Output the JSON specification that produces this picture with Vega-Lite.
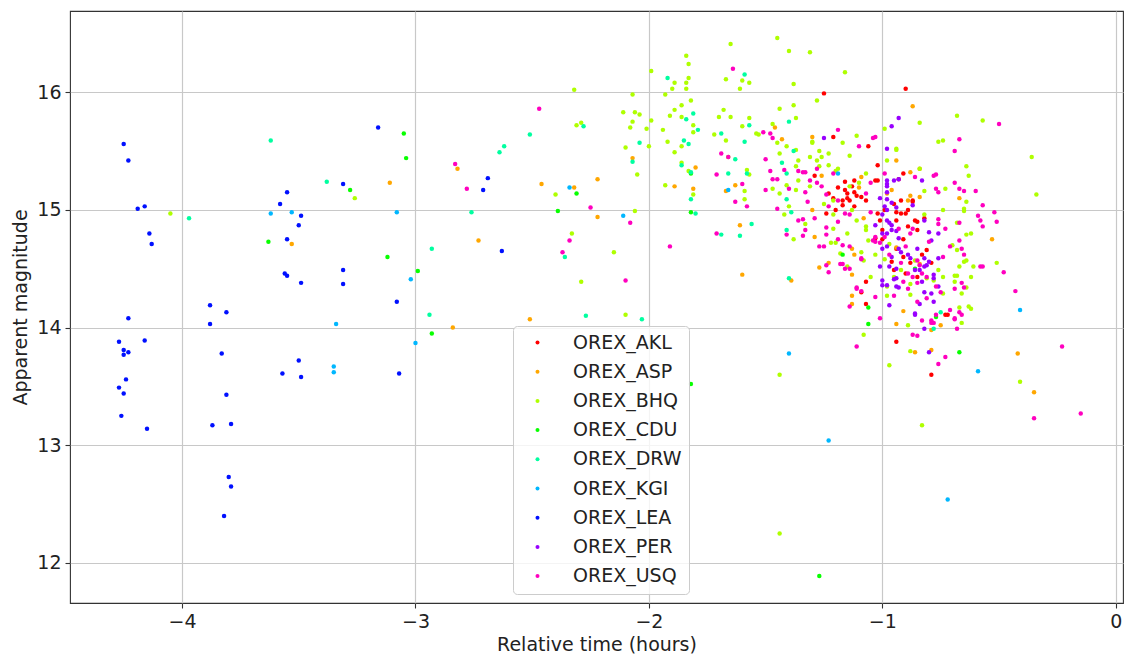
{"$schema":"https://vega.github.io/schema/vega-lite/v6.json","width":1053,"height":592,"autosize":{"type":"none"},"padding":{"left":70,"top":11,"right":2,"bottom":53},"background":"white","config":{"font":"DejaVu Sans","view":{"stroke":"#333333","strokeWidth":1.1},"axis":{"domain":false,"grid":true,"gridColor":"#c8c8c8","gridWidth":1.2,"tickColor":"#333333","tickSize":5,"tickWidth":1.1,"labelFontSize":19,"labelColor":"#222222","labelPadding":4,"titleFontSize":19,"titleFontWeight":"normal","titleColor":"#222222"}},"data":{"values":[
{"station":"OREX_AKL","time":-1.25,"mag":15.99},{"station":"OREX_AKL","time":-0.90,"mag":16.03},{"station":"OREX_AKL","time":-1.21,"mag":15.62},{"station":"OREX_AKL","time":-1.06,"mag":15.54},{"station":"OREX_AKL","time":-1.02,"mag":15.38},{"station":"OREX_AKL","time":-0.91,"mag":15.31},{"station":"OREX_AKL","time":-0.93,"mag":15.26},{"station":"OREX_AKL","time":-1.29,"mag":15.29},{"station":"OREX_AKL","time":-1.23,"mag":15.14},{"station":"OREX_AKL","time":-1.16,"mag":15.17},{"station":"OREX_AKL","time":-1.13,"mag":15.20},{"station":"OREX_AKL","time":-1.15,"mag":15.10},{"station":"OREX_AKL","time":-1.09,"mag":15.11},{"station":"OREX_AKL","time":-0.92,"mag":15.08},{"station":"OREX_AKL","time":-0.87,"mag":15.08},{"station":"OREX_AKL","time":-0.90,"mag":14.97},{"station":"OREX_AKL","time":-0.94,"mag":14.91},{"station":"OREX_AKL","time":-1.01,"mag":14.91},{"station":"OREX_AKL","time":-0.85,"mag":14.90},{"station":"OREX_AKL","time":-0.82,"mag":14.93},{"station":"OREX_AKL","time":-1.00,"mag":14.83},{"station":"OREX_AKL","time":-0.91,"mag":14.60},{"station":"OREX_AKL","time":-0.83,"mag":14.62},{"station":"OREX_AKL","time":-0.79,"mag":14.55},{"station":"OREX_AKL","time":-1.07,"mag":14.39},{"station":"OREX_AKL","time":-1.09,"mag":14.30},{"station":"OREX_AKL","time":-1.07,"mag":14.20},{"station":"OREX_AKL","time":-0.73,"mag":14.11},{"station":"OREX_AKL","time":-0.95,"mag":14.49},{"station":"OREX_AKL","time":-0.88,"mag":14.55},{"station":"OREX_AKL","time":-0.90,"mag":14.46},{"station":"OREX_AKL","time":-1.00,"mag":14.75},{"station":"OREX_AKL","time":-1.11,"mag":15.12},{"station":"OREX_AKL","time":-1.03,"mag":15.25},{"station":"OREX_AKL","time":-1.12,"mag":15.25},{"station":"OREX_AKL","time":-1.03,"mag":14.76},{"station":"OREX_AKL","time":-0.91,"mag":14.75},{"station":"OREX_AKL","time":-0.99,"mag":15.00},{"station":"OREX_AKL","time":-0.94,"mag":14.98},{"station":"OREX_AKL","time":-1.16,"mag":15.24},{"station":"OREX_AKL","time":-1.19,"mag":15.19},{"station":"OREX_AKL","time":-1.15,"mag":15.14},{"station":"OREX_AKL","time":-1.12,"mag":15.15},{"station":"OREX_AKL","time":-1.17,"mag":15.08},{"station":"OREX_AKL","time":-1.14,"mag":15.08},{"station":"OREX_AKL","time":-1.07,"mag":15.08},{"station":"OREX_AKL","time":-1.12,"mag":15.03},{"station":"OREX_AKL","time":-1.17,"mag":15.04},{"station":"OREX_AKL","time":-1.24,"mag":14.97},{"station":"OREX_AKL","time":-1.20,"mag":15.00},{"station":"OREX_AKL","time":-1.21,"mag":15.10},{"station":"OREX_AKL","time":-1.02,"mag":15.25},{"station":"OREX_AKL","time":-0.95,"mag":15.05},{"station":"OREX_AKL","time":-0.92,"mag":14.97},{"station":"OREX_AKL","time":-0.87,"mag":15.07},{"station":"OREX_AKL","time":-0.89,"mag":15.00},{"station":"OREX_AKL","time":-1.02,"mag":14.97},{"station":"OREX_AKL","time":-0.86,"mag":14.91},{"station":"OREX_AKL","time":-0.89,"mag":14.86},{"station":"OREX_AKL","time":-0.85,"mag":14.83},{"station":"OREX_AKL","time":-0.94,"mag":14.67},{"station":"OREX_AKL","time":-0.81,"mag":14.66},{"station":"OREX_AKL","time":-0.85,"mag":14.43},{"station":"OREX_AKL","time":-0.72,"mag":14.11},{"station":"OREX_AKL","time":-0.94,"mag":13.88},{"station":"OREX_AKL","time":-0.96,"mag":14.56},{"station":"OREX_AKL","time":-0.79,"mag":13.60},
{"station":"OREX_ASP","time":-3.53,"mag":14.71},{"station":"OREX_ASP","time":-3.11,"mag":15.23},{"station":"OREX_ASP","time":-2.82,"mag":15.35},{"station":"OREX_ASP","time":-2.73,"mag":14.74},{"station":"OREX_ASP","time":-2.84,"mag":14.00},{"station":"OREX_ASP","time":-2.51,"mag":14.07},{"station":"OREX_ASP","time":-2.46,"mag":15.22},{"station":"OREX_ASP","time":-2.32,"mag":15.19},{"station":"OREX_ASP","time":-2.22,"mag":14.94},{"station":"OREX_ASP","time":-2.22,"mag":15.26},{"station":"OREX_ASP","time":-2.07,"mag":15.44},{"station":"OREX_ASP","time":-1.89,"mag":15.20},{"station":"OREX_ASP","time":-1.80,"mag":15.36},{"station":"OREX_ASP","time":-1.81,"mag":15.18},{"station":"OREX_ASP","time":-1.67,"mag":15.16},{"station":"OREX_ASP","time":-1.63,"mag":15.21},{"station":"OREX_ASP","time":-1.61,"mag":14.87},{"station":"OREX_ASP","time":-1.60,"mag":14.45},{"station":"OREX_ASP","time":-1.46,"mag":15.70},{"station":"OREX_ASP","time":-1.43,"mag":15.60},{"station":"OREX_ASP","time":-1.30,"mag":15.62},{"station":"OREX_ASP","time":-1.39,"mag":14.40},{"station":"OREX_ASP","time":-1.30,"mag":15.00},{"station":"OREX_ASP","time":-1.27,"mag":14.51},{"station":"OREX_ASP","time":-1.23,"mag":14.55},{"station":"OREX_ASP","time":-1.13,"mag":14.67},{"station":"OREX_ASP","time":-1.13,"mag":14.27},{"station":"OREX_ASP","time":-1.13,"mag":14.20},{"station":"OREX_ASP","time":-0.98,"mag":15.14},{"station":"OREX_ASP","time":-0.94,"mag":15.42},{"station":"OREX_ASP","time":-0.87,"mag":15.88},{"station":"OREX_ASP","time":-0.88,"mag":15.12},{"station":"OREX_ASP","time":-0.84,"mag":15.35},{"station":"OREX_ASP","time":-0.84,"mag":15.11},{"station":"OREX_ASP","time":-0.91,"mag":14.14},{"station":"OREX_ASP","time":-0.84,"mag":14.54},{"station":"OREX_ASP","time":-0.94,"mag":14.68},{"station":"OREX_ASP","time":-0.67,"mag":15.10},{"station":"OREX_ASP","time":-0.53,"mag":14.75},{"station":"OREX_ASP","time":-0.75,"mag":14.02},{"station":"OREX_ASP","time":-0.94,"mag":14.03},{"station":"OREX_ASP","time":-0.86,"mag":13.79},{"station":"OREX_ASP","time":-0.79,"mag":13.81},{"station":"OREX_ASP","time":-0.42,"mag":13.78},{"station":"OREX_ASP","time":-0.79,"mag":13.98},{"station":"OREX_ASP","time":-1.13,"mag":14.45},{"station":"OREX_ASP","time":-1.12,"mag":14.62},{"station":"OREX_ASP","time":-1.29,"mag":14.77},{"station":"OREX_ASP","time":-0.35,"mag":13.45},{"station":"OREX_ASP","time":-0.88,"mag":15.32},{"station":"OREX_ASP","time":-0.89,"mag":15.08},{"station":"OREX_ASP","time":-0.96,"mag":15.17},{"station":"OREX_ASP","time":-1.26,"mag":15.29},{"station":"OREX_ASP","time":-1.10,"mag":15.19},{"station":"OREX_ASP","time":-1.09,"mag":15.28},{"station":"OREX_ASP","time":-1.08,"mag":14.93},
{"station":"OREX_BHQ","time":-4.05,"mag":14.97},{"station":"OREX_BHQ","time":-3.26,"mag":15.10},{"station":"OREX_BHQ","time":-2.32,"mag":16.02},{"station":"OREX_BHQ","time":-2.31,"mag":15.72},{"station":"OREX_BHQ","time":-2.29,"mag":15.74},{"station":"OREX_BHQ","time":-2.40,"mag":15.13},{"station":"OREX_BHQ","time":-2.06,"mag":14.99},{"station":"OREX_BHQ","time":-2.33,"mag":14.80},{"station":"OREX_BHQ","time":-2.15,"mag":14.64},{"station":"OREX_BHQ","time":-2.29,"mag":14.39},{"station":"OREX_BHQ","time":-2.10,"mag":14.11},{"station":"OREX_BHQ","time":-1.99,"mag":16.18},{"station":"OREX_BHQ","time":-2.07,"mag":15.98},{"station":"OREX_BHQ","time":-2.11,"mag":15.83},{"station":"OREX_BHQ","time":-2.06,"mag":15.83},{"station":"OREX_BHQ","time":-2.04,"mag":15.81},{"station":"OREX_BHQ","time":-2.07,"mag":15.75},{"station":"OREX_BHQ","time":-2.08,"mag":15.70},{"station":"OREX_BHQ","time":-2.10,"mag":15.53},{"station":"OREX_BHQ","time":-2.05,"mag":15.30},{"station":"OREX_BHQ","time":-1.93,"mag":15.21},{"station":"OREX_BHQ","time":-2.00,"mag":15.54},{"station":"OREX_BHQ","time":-2.01,"mag":15.69},{"station":"OREX_BHQ","time":-1.99,"mag":15.76},{"station":"OREX_BHQ","time":-1.94,"mag":15.68},{"station":"OREX_BHQ","time":-1.92,"mag":15.58},{"station":"OREX_BHQ","time":-1.89,"mag":15.49},{"station":"OREX_BHQ","time":-1.93,"mag":15.98},{"station":"OREX_BHQ","time":-1.91,"mag":15.80},{"station":"OREX_BHQ","time":-1.89,"mag":15.85},{"station":"OREX_BHQ","time":-1.90,"mag":16.03},{"station":"OREX_BHQ","time":-1.89,"mag":16.08},{"station":"OREX_BHQ","time":-1.84,"mag":16.31},{"station":"OREX_BHQ","time":-1.83,"mag":16.24},{"station":"OREX_BHQ","time":-1.83,"mag":16.12},{"station":"OREX_BHQ","time":-1.84,"mag":16.08},{"station":"OREX_BHQ","time":-1.84,"mag":16.03},{"station":"OREX_BHQ","time":-1.82,"mag":15.93},{"station":"OREX_BHQ","time":-1.86,"mag":15.89},{"station":"OREX_BHQ","time":-1.86,"mag":15.79},{"station":"OREX_BHQ","time":-1.81,"mag":15.72},{"station":"OREX_BHQ","time":-1.81,"mag":15.66},{"station":"OREX_BHQ","time":-1.72,"mag":15.64},{"station":"OREX_BHQ","time":-1.86,"mag":15.54},{"station":"OREX_BHQ","time":-1.86,"mag":15.40},{"station":"OREX_BHQ","time":-1.83,"mag":15.33},{"station":"OREX_BHQ","time":-1.81,"mag":15.13},{"station":"OREX_BHQ","time":-1.70,"mag":15.79},{"station":"OREX_BHQ","time":-1.45,"mag":16.46},{"station":"OREX_BHQ","time":-1.65,"mag":16.41},{"station":"OREX_BHQ","time":-1.40,"mag":16.35},{"station":"OREX_BHQ","time":-1.31,"mag":16.34},{"station":"OREX_BHQ","time":-1.67,"mag":16.11},{"station":"OREX_BHQ","time":-1.61,"mag":16.03},{"station":"OREX_BHQ","time":-1.60,"mag":16.10},{"station":"OREX_BHQ","time":-1.57,"mag":16.08},{"station":"OREX_BHQ","time":-1.38,"mag":16.07},{"station":"OREX_BHQ","time":-1.16,"mag":16.17},{"station":"OREX_BHQ","time":-1.28,"mag":15.93},{"station":"OREX_BHQ","time":-1.65,"mag":15.79},{"station":"OREX_BHQ","time":-1.68,"mag":15.85},{"station":"OREX_BHQ","time":-1.60,"mag":15.71},{"station":"OREX_BHQ","time":-1.57,"mag":15.78},{"station":"OREX_BHQ","time":-1.54,"mag":15.65},{"station":"OREX_BHQ","time":-1.44,"mag":15.86},{"station":"OREX_BHQ","time":-1.38,"mag":15.89},{"station":"OREX_BHQ","time":-1.37,"mag":15.78},{"station":"OREX_BHQ","time":-1.47,"mag":15.73},{"station":"OREX_BHQ","time":-1.67,"mag":15.59},{"station":"OREX_BHQ","time":-1.66,"mag":15.45},{"station":"OREX_BHQ","time":-1.58,"mag":15.34},{"station":"OREX_BHQ","time":-1.59,"mag":15.16},{"station":"OREX_BHQ","time":-1.59,"mag":15.09},{"station":"OREX_BHQ","time":-1.41,"mag":15.54},{"station":"OREX_BHQ","time":-1.44,"mag":15.48},{"station":"OREX_BHQ","time":-1.37,"mag":15.37},{"station":"OREX_BHQ","time":-1.41,"mag":15.21},{"station":"OREX_BHQ","time":-1.44,"mag":15.14},{"station":"OREX_BHQ","time":-1.40,"mag":15.03},{"station":"OREX_BHQ","time":-1.30,"mag":15.57},{"station":"OREX_BHQ","time":-1.31,"mag":15.45},{"station":"OREX_BHQ","time":-1.26,"mag":15.45},{"station":"OREX_BHQ","time":-1.23,"mag":15.48},{"station":"OREX_BHQ","time":-1.27,"mag":15.37},{"station":"OREX_BHQ","time":-1.23,"mag":15.38},{"station":"OREX_BHQ","time":-1.19,"mag":15.35},{"station":"OREX_BHQ","time":-1.14,"mag":15.46},{"station":"OREX_BHQ","time":-1.11,"mag":15.63},{"station":"OREX_BHQ","time":-1.31,"mag":15.20},{"station":"OREX_BHQ","time":-1.21,"mag":15.08},{"station":"OREX_BHQ","time":-1.14,"mag":15.20},{"station":"OREX_BHQ","time":-1.10,"mag":15.23},{"station":"OREX_BHQ","time":-1.07,"mag":15.31},{"station":"OREX_BHQ","time":-1.13,"mag":15.00},{"station":"OREX_BHQ","time":-1.11,"mag":14.91},{"station":"OREX_BHQ","time":-1.07,"mag":14.83},{"station":"OREX_BHQ","time":-1.06,"mag":14.74},{"station":"OREX_BHQ","time":-1.15,"mag":14.80},{"station":"OREX_BHQ","time":-1.21,"mag":14.84},{"station":"OREX_BHQ","time":-1.09,"mag":14.64},{"station":"OREX_BHQ","time":-1.20,"mag":14.72},{"station":"OREX_BHQ","time":-0.94,"mag":15.52},{"station":"OREX_BHQ","time":-0.99,"mag":15.69},{"station":"OREX_BHQ","time":-0.84,"mag":15.74},{"station":"OREX_BHQ","time":-0.68,"mag":15.80},{"station":"OREX_BHQ","time":-0.57,"mag":15.76},{"station":"OREX_BHQ","time":-0.76,"mag":15.58},{"station":"OREX_BHQ","time":-0.74,"mag":15.59},{"station":"OREX_BHQ","time":-0.64,"mag":15.37},{"station":"OREX_BHQ","time":-0.63,"mag":15.29},{"station":"OREX_BHQ","time":-0.73,"mag":15.18},{"station":"OREX_BHQ","time":-0.64,"mag":15.07},{"station":"OREX_BHQ","time":-0.65,"mag":15.01},{"station":"OREX_BHQ","time":-0.74,"mag":15.00},{"station":"OREX_BHQ","time":-0.36,"mag":15.45},{"station":"OREX_BHQ","time":-0.34,"mag":15.13},{"station":"OREX_BHQ","time":-0.62,"mag":14.80},{"station":"OREX_BHQ","time":-0.64,"mag":14.57},{"station":"OREX_BHQ","time":-0.61,"mag":14.52},{"station":"OREX_BHQ","time":-0.67,"mag":14.52},{"station":"OREX_BHQ","time":-0.68,"mag":14.44},{"station":"OREX_BHQ","time":-0.64,"mag":14.34},{"station":"OREX_BHQ","time":-0.63,"mag":14.18},{"station":"OREX_BHQ","time":-0.66,"mag":14.29},{"station":"OREX_BHQ","time":-0.74,"mag":14.29},{"station":"OREX_BHQ","time":-0.74,"mag":14.43},{"station":"OREX_BHQ","time":-0.68,"mag":14.66},{"station":"OREX_BHQ","time":-0.70,"mag":14.70},{"station":"OREX_BHQ","time":-0.92,"mag":14.49},{"station":"OREX_BHQ","time":-0.88,"mag":14.37},{"station":"OREX_BHQ","time":-0.64,"mag":14.79},{"station":"OREX_BHQ","time":-0.65,"mag":14.56},{"station":"OREX_BHQ","time":-0.62,"mag":14.43},{"station":"OREX_BHQ","time":-0.69,"mag":14.44},{"station":"OREX_BHQ","time":-0.69,"mag":14.39},{"station":"OREX_BHQ","time":-0.62,"mag":14.16},{"station":"OREX_BHQ","time":-0.67,"mag":14.17},{"station":"OREX_BHQ","time":-0.51,"mag":14.55},{"station":"OREX_BHQ","time":-0.98,"mag":14.27},{"station":"OREX_BHQ","time":-0.88,"mag":14.28},{"station":"OREX_BHQ","time":-0.81,"mag":14.42},{"station":"OREX_BHQ","time":-0.78,"mag":14.40},{"station":"OREX_BHQ","time":-0.76,"mag":14.49},{"station":"OREX_BHQ","time":-0.95,"mag":14.43},{"station":"OREX_BHQ","time":-0.98,"mag":14.35},{"station":"OREX_BHQ","time":-0.86,"mag":14.57},{"station":"OREX_BHQ","time":-0.89,"mag":14.02},{"station":"OREX_BHQ","time":-0.88,"mag":13.80},{"station":"OREX_BHQ","time":-1.08,"mag":13.94},{"station":"OREX_BHQ","time":-0.66,"mag":14.04},{"station":"OREX_BHQ","time":-0.97,"mag":13.68},{"station":"OREX_BHQ","time":-0.83,"mag":13.17},{"station":"OREX_BHQ","time":-0.41,"mag":13.54},{"station":"OREX_BHQ","time":-1.44,"mag":13.60},{"station":"OREX_BHQ","time":-1.44,"mag":12.25},{"station":"OREX_BHQ","time":-1.38,"mag":14.75},{"station":"OREX_BHQ","time":-1.22,"mag":14.72},{"station":"OREX_BHQ","time":-1.15,"mag":14.52},{"station":"OREX_BHQ","time":-1.08,"mag":14.57},{"station":"OREX_BHQ","time":-1.05,"mag":14.43},{"station":"OREX_BHQ","time":-1.53,"mag":15.64},{"station":"OREX_BHQ","time":-1.57,"mag":15.30},{"station":"OREX_BHQ","time":-1.47,"mag":15.18},{"station":"OREX_BHQ","time":-1.36,"mag":15.42},{"station":"OREX_BHQ","time":-1.37,"mag":15.51},{"station":"OREX_BHQ","time":-1.45,"mag":15.57},{"station":"OREX_BHQ","time":-1.30,"mag":15.58},{"station":"OREX_BHQ","time":-1.27,"mag":15.50},{"station":"OREX_BHQ","time":-1.28,"mag":15.42},{"station":"OREX_BHQ","time":-1.17,"mag":15.57},{"station":"OREX_BHQ","time":-1.36,"mag":15.25},{"station":"OREX_BHQ","time":-1.37,"mag":15.17},{"station":"OREX_BHQ","time":-1.20,"mag":15.33},{"station":"OREX_BHQ","time":-1.21,"mag":14.96},{"station":"OREX_BHQ","time":-1.42,"mag":14.96},{"station":"OREX_BHQ","time":-1.07,"mag":14.86},{"station":"OREX_BHQ","time":-0.98,"mag":15.42},{"station":"OREX_BHQ","time":-0.94,"mag":15.51},{"station":"OREX_BHQ","time":-0.84,"mag":15.35},{"station":"OREX_BHQ","time":-0.82,"mag":15.16},{"station":"OREX_BHQ","time":-0.65,"mag":14.99},{"station":"OREX_BHQ","time":-0.68,"mag":14.89},{"station":"OREX_BHQ","time":-0.82,"mag":14.96},{"station":"OREX_BHQ","time":-1.03,"mag":14.62},{"station":"OREX_BHQ","time":-0.97,"mag":14.71},{"station":"OREX_BHQ","time":-1.18,"mag":14.63},{"station":"OREX_BHQ","time":-0.99,"mag":14.58},{"station":"OREX_BHQ","time":-1.25,"mag":15.05},{"station":"OREX_BHQ","time":-1.33,"mag":14.88},
{"station":"OREX_CDU","time":-3.63,"mag":14.73},{"station":"OREX_CDU","time":-3.28,"mag":15.17},{"station":"OREX_CDU","time":-3.12,"mag":14.60},{"station":"OREX_CDU","time":-3.05,"mag":15.65},{"station":"OREX_CDU","time":-3.04,"mag":15.44},{"station":"OREX_CDU","time":-2.99,"mag":14.48},{"station":"OREX_CDU","time":-2.31,"mag":15.14},{"station":"OREX_CDU","time":-2.39,"mag":14.99},{"station":"OREX_CDU","time":-2.93,"mag":13.95},{"station":"OREX_CDU","time":-1.82,"mag":13.52},{"station":"OREX_CDU","time":-1.82,"mag":15.31},{"station":"OREX_CDU","time":-1.82,"mag":14.98},{"station":"OREX_CDU","time":-0.77,"mag":14.09},{"station":"OREX_CDU","time":-0.67,"mag":13.79},{"station":"OREX_CDU","time":-1.17,"mag":14.62},{"station":"OREX_CDU","time":-1.06,"mag":14.17},{"station":"OREX_CDU","time":-1.06,"mag":14.03},{"station":"OREX_CDU","time":-1.27,"mag":11.89},{"station":"OREX_CDU","time":-0.86,"mag":14.50},
{"station":"OREX_DRW","time":-3.62,"mag":15.59},{"station":"OREX_DRW","time":-3.97,"mag":14.93},{"station":"OREX_DRW","time":-3.38,"mag":15.24},{"station":"OREX_DRW","time":-2.64,"mag":15.49},{"station":"OREX_DRW","time":-2.62,"mag":15.54},{"station":"OREX_DRW","time":-2.51,"mag":15.64},{"station":"OREX_DRW","time":-2.76,"mag":14.98},{"station":"OREX_DRW","time":-2.93,"mag":14.67},{"station":"OREX_DRW","time":-2.94,"mag":14.11},{"station":"OREX_DRW","time":-2.36,"mag":14.60},{"station":"OREX_DRW","time":-2.28,"mag":15.71},{"station":"OREX_DRW","time":-2.27,"mag":14.10},{"station":"OREX_DRW","time":-2.04,"mag":15.57},{"station":"OREX_DRW","time":-2.07,"mag":15.41},{"station":"OREX_DRW","time":-2.03,"mag":14.07},{"station":"OREX_DRW","time":-1.92,"mag":16.12},{"station":"OREX_DRW","time":-1.81,"mag":15.82},{"station":"OREX_DRW","time":-1.84,"mag":15.77},{"station":"OREX_DRW","time":-1.79,"mag":15.68},{"station":"OREX_DRW","time":-1.85,"mag":15.59},{"station":"OREX_DRW","time":-1.83,"mag":15.56},{"station":"OREX_DRW","time":-1.86,"mag":15.38},{"station":"OREX_DRW","time":-1.82,"mag":15.09},{"station":"OREX_DRW","time":-1.80,"mag":14.97},{"station":"OREX_DRW","time":-1.82,"mag":15.32},{"station":"OREX_DRW","time":-1.69,"mag":15.65},{"station":"OREX_DRW","time":-1.59,"mag":15.58},{"station":"OREX_DRW","time":-1.57,"mag":15.72},{"station":"OREX_DRW","time":-1.59,"mag":16.15},{"station":"OREX_DRW","time":-1.63,"mag":15.43},{"station":"OREX_DRW","time":-1.66,"mag":15.31},{"station":"OREX_DRW","time":-1.58,"mag":15.31},{"station":"OREX_DRW","time":-1.56,"mag":14.88},{"station":"OREX_DRW","time":-1.61,"mag":14.78},{"station":"OREX_DRW","time":-1.69,"mag":14.79},{"station":"OREX_DRW","time":-1.43,"mag":15.40},{"station":"OREX_DRW","time":-1.40,"mag":15.75},{"station":"OREX_DRW","time":-1.41,"mag":15.31},{"station":"OREX_DRW","time":-1.41,"mag":15.09},{"station":"OREX_DRW","time":-1.39,"mag":14.98},{"station":"OREX_DRW","time":-1.41,"mag":14.83},{"station":"OREX_DRW","time":-1.38,"mag":15.50},{"station":"OREX_DRW","time":-1.40,"mag":14.42},{"station":"OREX_DRW","time":-0.75,"mag":14.13},{"station":"OREX_DRW","time":-0.78,"mag":13.99},
{"station":"OREX_KGI","time":-3.53,"mag":14.98},{"station":"OREX_KGI","time":-3.62,"mag":14.97},{"station":"OREX_KGI","time":-3.08,"mag":14.98},{"station":"OREX_KGI","time":-3.35,"mag":13.67},{"station":"OREX_KGI","time":-3.35,"mag":13.62},{"station":"OREX_KGI","time":-3.34,"mag":14.03},{"station":"OREX_KGI","time":-3.02,"mag":14.41},{"station":"OREX_KGI","time":-2.34,"mag":15.19},{"station":"OREX_KGI","time":-2.11,"mag":14.95},{"station":"OREX_KGI","time":-3.00,"mag":13.87},{"station":"OREX_KGI","time":-1.66,"mag":15.17},{"station":"OREX_KGI","time":-1.19,"mag":15.31},{"station":"OREX_KGI","time":-0.41,"mag":14.15},{"station":"OREX_KGI","time":-1.40,"mag":13.78},{"station":"OREX_KGI","time":-1.23,"mag":13.04},{"station":"OREX_KGI","time":-0.59,"mag":13.63},{"station":"OREX_KGI","time":-0.72,"mag":12.54},
{"station":"OREX_LEA","time":-4.25,"mag":15.56},{"station":"OREX_LEA","time":-4.23,"mag":15.42},{"station":"OREX_LEA","time":-4.19,"mag":15.01},{"station":"OREX_LEA","time":-4.16,"mag":15.03},{"station":"OREX_LEA","time":-4.14,"mag":14.80},{"station":"OREX_LEA","time":-4.13,"mag":14.71},{"station":"OREX_LEA","time":-4.23,"mag":14.08},{"station":"OREX_LEA","time":-3.88,"mag":14.19},{"station":"OREX_LEA","time":-3.81,"mag":14.13},{"station":"OREX_LEA","time":-3.88,"mag":14.03},{"station":"OREX_LEA","time":-3.58,"mag":15.05},{"station":"OREX_LEA","time":-3.55,"mag":15.15},{"station":"OREX_LEA","time":-3.49,"mag":14.95},{"station":"OREX_LEA","time":-3.50,"mag":14.87},{"station":"OREX_LEA","time":-3.55,"mag":14.75},{"station":"OREX_LEA","time":-3.56,"mag":14.46},{"station":"OREX_LEA","time":-3.55,"mag":14.44},{"station":"OREX_LEA","time":-3.49,"mag":14.38},{"station":"OREX_LEA","time":-3.31,"mag":15.22},{"station":"OREX_LEA","time":-3.31,"mag":14.49},{"station":"OREX_LEA","time":-3.31,"mag":14.37},{"station":"OREX_LEA","time":-3.16,"mag":15.70},{"station":"OREX_LEA","time":-3.08,"mag":14.22},{"station":"OREX_LEA","time":-4.27,"mag":13.88},{"station":"OREX_LEA","time":-4.25,"mag":13.81},{"station":"OREX_LEA","time":-4.25,"mag":13.77},{"station":"OREX_LEA","time":-4.23,"mag":13.79},{"station":"OREX_LEA","time":-4.16,"mag":13.89},{"station":"OREX_LEA","time":-4.24,"mag":13.56},{"station":"OREX_LEA","time":-4.27,"mag":13.49},{"station":"OREX_LEA","time":-4.25,"mag":13.44},{"station":"OREX_LEA","time":-4.26,"mag":13.25},{"station":"OREX_LEA","time":-4.15,"mag":13.14},{"station":"OREX_LEA","time":-3.83,"mag":13.78},{"station":"OREX_LEA","time":-3.81,"mag":13.43},{"station":"OREX_LEA","time":-3.87,"mag":13.17},{"station":"OREX_LEA","time":-3.79,"mag":13.18},{"station":"OREX_LEA","time":-3.80,"mag":12.73},{"station":"OREX_LEA","time":-3.79,"mag":12.65},{"station":"OREX_LEA","time":-3.82,"mag":12.40},{"station":"OREX_LEA","time":-3.57,"mag":13.61},{"station":"OREX_LEA","time":-3.50,"mag":13.72},{"station":"OREX_LEA","time":-3.49,"mag":13.58},{"station":"OREX_LEA","time":-3.07,"mag":13.61},{"station":"OREX_LEA","time":-2.69,"mag":15.27},{"station":"OREX_LEA","time":-2.71,"mag":15.17},{"station":"OREX_LEA","time":-2.63,"mag":14.65},
{"station":"OREX_PER","time":-0.93,"mag":15.78},{"station":"OREX_PER","time":-0.96,"mag":15.71},{"station":"OREX_PER","time":-0.98,"mag":15.52},{"station":"OREX_PER","time":-0.98,"mag":15.25},{"station":"OREX_PER","time":-0.95,"mag":15.25},{"station":"OREX_PER","time":-0.93,"mag":15.26},{"station":"OREX_PER","time":-0.83,"mag":15.25},{"station":"OREX_PER","time":-0.98,"mag":15.22},{"station":"OREX_PER","time":-0.98,"mag":15.15},{"station":"OREX_PER","time":-1.01,"mag":15.10},{"station":"OREX_PER","time":-0.98,"mag":15.09},{"station":"OREX_PER","time":-0.96,"mag":15.06},{"station":"OREX_PER","time":-0.99,"mag":15.03},{"station":"OREX_PER","time":-0.98,"mag":15.00},{"station":"OREX_PER","time":-0.94,"mag":15.02},{"station":"OREX_PER","time":-0.87,"mag":15.04},{"station":"OREX_PER","time":-0.98,"mag":14.91},{"station":"OREX_PER","time":-1.03,"mag":14.87},{"station":"OREX_PER","time":-0.96,"mag":14.87},{"station":"OREX_PER","time":-0.82,"mag":14.91},{"station":"OREX_PER","time":-1.00,"mag":14.96},{"station":"OREX_PER","time":-1.25,"mag":15.61},{"station":"OREX_PER","time":-0.97,"mag":14.89},{"station":"OREX_PER","time":-0.96,"mag":14.83},{"station":"OREX_PER","time":-0.94,"mag":14.82},{"station":"OREX_PER","time":-0.98,"mag":14.80},{"station":"OREX_PER","time":-0.93,"mag":14.76},{"station":"OREX_PER","time":-1.00,"mag":14.67},{"station":"OREX_PER","time":-0.96,"mag":14.60},{"station":"OREX_PER","time":-1.01,"mag":14.52},{"station":"OREX_PER","time":-0.97,"mag":14.52},{"station":"OREX_PER","time":-0.95,"mag":14.41},{"station":"OREX_PER","time":-0.98,"mag":14.36},{"station":"OREX_PER","time":-0.93,"mag":14.34},{"station":"OREX_PER","time":-1.00,"mag":14.36},{"station":"OREX_PER","time":-0.97,"mag":14.19},{"station":"OREX_PER","time":-0.80,"mag":14.81},{"station":"OREX_PER","time":-0.79,"mag":14.74},{"station":"OREX_PER","time":-0.82,"mag":14.59},{"station":"OREX_PER","time":-0.80,"mag":14.56},{"station":"OREX_PER","time":-0.82,"mag":14.52},{"station":"OREX_PER","time":-0.84,"mag":14.49},{"station":"OREX_PER","time":-0.78,"mag":14.42},{"station":"OREX_PER","time":-0.83,"mag":14.39},{"station":"OREX_PER","time":-0.79,"mag":14.29},{"station":"OREX_PER","time":-0.84,"mag":14.20},{"station":"OREX_PER","time":-0.78,"mag":14.22},{"station":"OREX_PER","time":-0.86,"mag":14.11},{"station":"OREX_PER","time":-0.82,"mag":13.99},{"station":"OREX_PER","time":-0.88,"mag":14.59},{"station":"OREX_PER","time":-0.85,"mag":14.67},{"station":"OREX_PER","time":-0.92,"mag":14.64},{"station":"OREX_PER","time":-0.76,"mag":14.59},{"station":"OREX_PER","time":-0.76,"mag":14.80},{"station":"OREX_PER","time":-1.00,"mag":14.80},{"station":"OREX_PER","time":-0.98,"mag":14.69},{"station":"OREX_PER","time":-0.93,"mag":14.67},{"station":"OREX_PER","time":-0.89,"mag":14.62},{"station":"OREX_PER","time":-0.94,"mag":14.50},{"station":"OREX_PER","time":-0.86,"mag":14.49},{"station":"OREX_PER","time":-0.81,"mag":14.53},{"station":"OREX_PER","time":-0.94,"mag":14.42},{"station":"OREX_PER","time":-1.00,"mag":14.40},{"station":"OREX_PER","time":-0.78,"mag":14.45},{"station":"OREX_PER","time":-0.76,"mag":14.35},{"station":"OREX_PER","time":-0.94,"mag":14.35},{"station":"OREX_PER","time":-0.86,"mag":14.12},{"station":"OREX_PER","time":-0.80,"mag":13.79},{"station":"OREX_PER","time":-0.82,"mag":14.30},{"station":"OREX_PER","time":-0.98,"mag":15.20},
{"station":"OREX_USQ","time":-2.47,"mag":15.86},{"station":"OREX_USQ","time":-2.83,"mag":15.39},{"station":"OREX_USQ","time":-2.78,"mag":15.18},{"station":"OREX_USQ","time":-2.25,"mag":15.02},{"station":"OREX_USQ","time":-2.34,"mag":14.74},{"station":"OREX_USQ","time":-2.37,"mag":14.64},{"station":"OREX_USQ","time":-2.08,"mag":14.89},{"station":"OREX_USQ","time":-2.10,"mag":14.40},{"station":"OREX_USQ","time":-1.91,"mag":14.69},{"station":"OREX_USQ","time":-1.71,"mag":15.30},{"station":"OREX_USQ","time":-1.71,"mag":14.80},{"station":"OREX_USQ","time":-1.64,"mag":16.20},{"station":"OREX_USQ","time":-1.69,"mag":15.48},{"station":"OREX_USQ","time":-1.66,"mag":15.45},{"station":"OREX_USQ","time":-1.60,"mag":15.22},{"station":"OREX_USQ","time":-1.63,"mag":15.07},{"station":"OREX_USQ","time":-1.58,"mag":15.03},{"station":"OREX_USQ","time":-1.50,"mag":15.43},{"station":"OREX_USQ","time":-1.51,"mag":15.66},{"station":"OREX_USQ","time":-1.48,"mag":15.65},{"station":"OREX_USQ","time":-1.47,"mag":15.26},{"station":"OREX_USQ","time":-1.45,"mag":15.26},{"station":"OREX_USQ","time":-1.50,"mag":15.17},{"station":"OREX_USQ","time":-1.45,"mag":15.01},{"station":"OREX_USQ","time":-1.40,"mag":15.18},{"station":"OREX_USQ","time":-1.36,"mag":14.91},{"station":"OREX_USQ","time":-1.33,"mag":14.83},{"station":"OREX_USQ","time":-1.34,"mag":14.78},{"station":"OREX_USQ","time":-1.41,"mag":14.79},{"station":"OREX_USQ","time":-1.34,"mag":15.32},{"station":"OREX_USQ","time":-1.33,"mag":15.15},{"station":"OREX_USQ","time":-1.19,"mag":15.68},{"station":"OREX_USQ","time":-1.27,"mag":14.69},{"station":"OREX_USQ","time":-1.23,"mag":14.47},{"station":"OREX_USQ","time":-1.17,"mag":14.54},{"station":"OREX_USQ","time":-1.14,"mag":14.50},{"station":"OREX_USQ","time":-1.14,"mag":14.18},{"station":"OREX_USQ","time":-1.11,"mag":14.33},{"station":"OREX_USQ","time":-1.09,"mag":14.59},{"station":"OREX_USQ","time":-1.03,"mag":14.26},{"station":"OREX_USQ","time":-1.04,"mag":15.61},{"station":"OREX_USQ","time":-1.21,"mag":15.31},{"station":"OREX_USQ","time":-1.26,"mag":15.20},{"station":"OREX_USQ","time":-1.19,"mag":15.08},{"station":"OREX_USQ","time":-1.14,"mag":14.96},{"station":"OREX_USQ","time":-1.19,"mag":14.90},{"station":"OREX_USQ","time":-1.24,"mag":14.85},{"station":"OREX_USQ","time":-1.03,"mag":14.77},{"station":"OREX_USQ","time":-1.04,"mag":14.74},{"station":"OREX_USQ","time":-0.99,"mag":14.77},{"station":"OREX_USQ","time":-0.93,"mag":14.84},{"station":"OREX_USQ","time":-0.87,"mag":14.84},{"station":"OREX_USQ","time":-0.88,"mag":14.80},{"station":"OREX_USQ","time":-0.90,"mag":14.69},{"station":"OREX_USQ","time":-0.85,"mag":14.57},{"station":"OREX_USQ","time":-0.83,"mag":14.46},{"station":"OREX_USQ","time":-0.85,"mag":14.38},{"station":"OREX_USQ","time":-0.81,"mag":14.43},{"station":"OREX_USQ","time":-0.77,"mag":14.35},{"station":"OREX_USQ","time":-0.75,"mag":14.30},{"station":"OREX_USQ","time":-0.77,"mag":14.11},{"station":"OREX_USQ","time":-0.79,"mag":14.06},{"station":"OREX_USQ","time":-0.83,"mag":14.06},{"station":"OREX_USQ","time":-0.66,"mag":14.11},{"station":"OREX_USQ","time":-0.69,"mag":14.07},{"station":"OREX_USQ","time":-0.77,"mag":15.30},{"station":"OREX_USQ","time":-0.77,"mag":15.18},{"station":"OREX_USQ","time":-0.76,"mag":14.88},{"station":"OREX_USQ","time":-0.73,"mag":14.84},{"station":"OREX_USQ","time":-0.69,"mag":15.23},{"station":"OREX_USQ","time":-0.67,"mag":15.18},{"station":"OREX_USQ","time":-0.65,"mag":15.16},{"station":"OREX_USQ","time":-0.60,"mag":15.16},{"station":"OREX_USQ","time":-0.67,"mag":15.60},{"station":"OREX_USQ","time":-0.69,"mag":15.50},{"station":"OREX_USQ","time":-0.50,"mag":15.73},{"station":"OREX_USQ","time":-0.57,"mag":15.04},{"station":"OREX_USQ","time":-0.59,"mag":14.95},{"station":"OREX_USQ","time":-0.58,"mag":14.91},{"station":"OREX_USQ","time":-0.57,"mag":14.86},{"station":"OREX_USQ","time":-0.52,"mag":14.98},{"station":"OREX_USQ","time":-0.51,"mag":14.90},{"station":"OREX_USQ","time":-0.57,"mag":14.52},{"station":"OREX_USQ","time":-0.48,"mag":14.47},{"station":"OREX_USQ","time":-0.43,"mag":14.31},{"station":"OREX_USQ","time":-0.67,"mag":14.74},{"station":"OREX_USQ","time":-0.66,"mag":14.67},{"station":"OREX_USQ","time":-1.11,"mag":13.84},{"station":"OREX_USQ","time":-0.23,"mag":13.84},{"station":"OREX_USQ","time":-0.15,"mag":13.27},{"station":"OREX_USQ","time":-0.35,"mag":13.23},{"station":"OREX_USQ","time":-0.76,"mag":13.69},{"station":"OREX_USQ","time":-0.73,"mag":13.75},{"station":"OREX_USQ","time":-0.87,"mag":13.94},{"station":"OREX_USQ","time":-0.85,"mag":13.93},{"station":"OREX_USQ","time":-0.78,"mag":14.04},{"station":"OREX_USQ","time":-0.68,"mag":13.99},{"station":"OREX_USQ","time":-1.25,"mag":14.69},{"station":"OREX_USQ","time":-1.24,"mag":14.53},{"station":"OREX_USQ","time":-1.18,"mag":14.54},{"station":"OREX_USQ","time":-1.16,"mag":14.50},{"station":"OREX_USQ","time":-1.11,"mag":14.34},{"station":"OREX_USQ","time":-1.09,"mag":14.31},{"station":"OREX_USQ","time":-1.17,"mag":14.70},{"station":"OREX_USQ","time":-1.14,"mag":14.69},{"station":"OREX_USQ","time":-1.09,"mag":14.58},{"station":"OREX_USQ","time":-1.24,"mag":14.79},{"station":"OREX_USQ","time":-1.19,"mag":14.75},{"station":"OREX_USQ","time":-1.47,"mag":15.61},{"station":"OREX_USQ","time":-1.48,"mag":15.33},{"station":"OREX_USQ","time":-1.42,"mag":15.34},{"station":"OREX_USQ","time":-1.36,"mag":15.33},{"station":"OREX_USQ","time":-1.33,"mag":15.32},{"station":"OREX_USQ","time":-1.32,"mag":15.07},{"station":"OREX_USQ","time":-1.28,"mag":15.35},{"station":"OREX_USQ","time":-1.28,"mag":15.23},{"station":"OREX_USQ","time":-1.31,"mag":15.25},{"station":"OREX_USQ","time":-1.24,"mag":15.13},{"station":"OREX_USQ","time":-1.10,"mag":15.54},{"station":"OREX_USQ","time":-1.05,"mag":15.23},{"station":"OREX_USQ","time":-1.07,"mag":15.14},{"station":"OREX_USQ","time":-1.23,"mag":15.03},{"station":"OREX_USQ","time":-1.16,"mag":14.97},{"station":"OREX_USQ","time":-1.05,"mag":14.98},{"station":"OREX_USQ","time":-1.29,"mag":14.93},{"station":"OREX_USQ","time":-1.34,"mag":14.92},{"station":"OREX_USQ","time":-0.78,"mag":15.29},{"station":"OREX_USQ","time":-0.76,"mag":15.15},{"station":"OREX_USQ","time":-0.99,"mag":15.31},{"station":"OREX_USQ","time":-0.86,"mag":15.28},{"station":"OREX_USQ","time":-0.76,"mag":14.92},{"station":"OREX_USQ","time":-0.67,"mag":14.89},{"station":"OREX_USQ","time":-1.03,"mag":15.62},{"station":"OREX_USQ","time":-1.03,"mag":14.73},{"station":"OREX_USQ","time":-0.80,"mag":14.73},{"station":"OREX_USQ","time":-0.74,"mag":14.60},{"station":"OREX_USQ","time":-0.84,"mag":14.53},{"station":"OREX_USQ","time":-0.89,"mag":14.46},{"station":"OREX_USQ","time":-0.91,"mag":14.39},{"station":"OREX_USQ","time":-0.69,"mag":14.33},{"station":"OREX_USQ","time":-0.71,"mag":14.69},{"station":"OREX_USQ","time":-0.65,"mag":14.62},{"station":"OREX_USQ","time":-0.66,"mag":14.38},{"station":"OREX_USQ","time":-0.65,"mag":14.34},{"station":"OREX_USQ","time":-0.58,"mag":14.52},{"station":"OREX_USQ","time":-0.85,"mag":14.22},{"station":"OREX_USQ","time":-0.71,"mag":14.15},{"station":"OREX_USQ","time":-0.69,"mag":14.08},{"station":"OREX_USQ","time":-0.67,"mag":14.13},{"station":"OREX_USQ","time":-0.79,"mag":14.04},{"station":"OREX_USQ","time":-1.01,"mag":14.08},{"station":"OREX_USQ","time":-1.01,"mag":14.72},{"station":"OREX_USQ","time":-0.97,"mag":14.62},{"station":"OREX_USQ","time":-0.92,"mag":14.55},{"station":"OREX_USQ","time":-0.87,"mag":14.43},{"station":"OREX_USQ","time":-0.81,"mag":14.25},{"station":"OREX_USQ","time":-0.89,"mag":14.33},{"station":"OREX_USQ","time":-0.95,"mag":14.27}
]},"mark":{"type":"circle","size":20,"opacity":1},"encoding":{"x":{"field":"time","type":"quantitative","scale":{"domain":[-4.48,0.031],"nice":false,"zero":false},"axis":{"values":[-4,-3,-2,-1,0],"title":"Relative time (hours)","titlePadding":4}},"y":{"field":"mag","type":"quantitative","scale":{"domain":[11.66,16.69],"nice":false,"zero":false},"axis":{"values":[12,13,14,15,16],"title":"Apparent magnitude","titlePadding":6}},"color":{"field":"station","type":"nominal","scale":{"domain":["OREX_AKL","OREX_ASP","OREX_BHQ","OREX_CDU","OREX_DRW","OREX_KGI","OREX_LEA","OREX_PER","OREX_USQ"],"range":["#ff0000","#ffa700","#afff00","#08ff00","#00ffa0","#00b7ff","#0010ff","#9800ff","#ff00bf"]},"legend":{"title":null,"orient":"none","legendX":443,"legendY":315,"direction":"vertical","symbolType":"circle","symbolSize":16,"symbolStrokeWidth":0,"symbolOffset":8,"labelOffset":26,"labelFontSize":19,"labelColor":"#222222","rowPadding":9.2,"padding":7,"strokeColor":"#cccccc","fillColor":"rgba(255,255,255,0.8)","cornerRadius":4}}}}
